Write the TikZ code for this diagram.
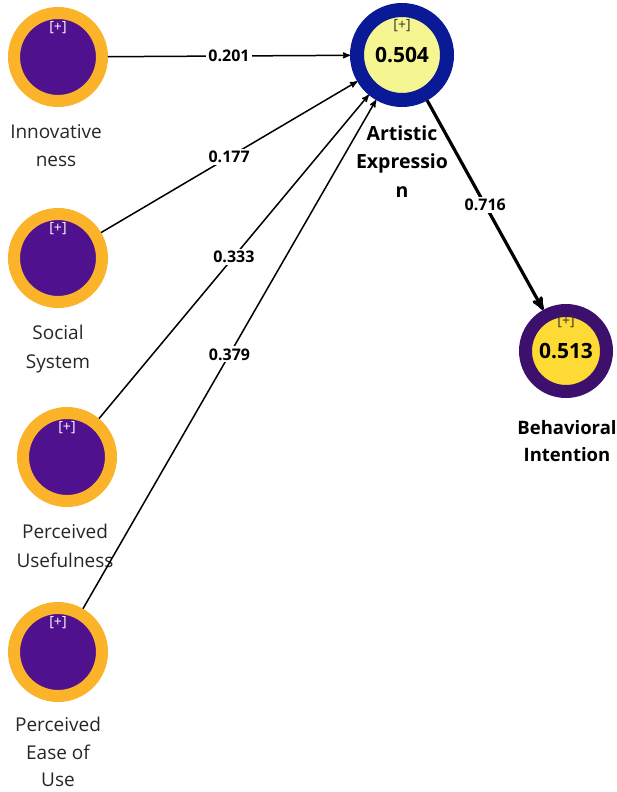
\documentclass[tikz,border=0pt]{standalone}
\usepackage{fontspec}
\setmainfont{Open Sans}
\usetikzlibrary{positioning,arrows}
\definecolor{ringorange}{RGB}{251,180,42}
\definecolor{latpurple}{RGB}{80,17,142}
\definecolor{ringnavy}{RGB}{10,26,150}
\definecolor{paleyellow}{RGB}{245,245,145}
\definecolor{ringplum}{RGB}{62,16,110}
\definecolor{sunyellow}{RGB}{253,218,52}
\tikzset{
        >=stealth', % arrow heads
        exo/.style={circle, fill=latpurple, draw=ringorange, line width=12pt, minimum size=88pt, inner sep=0pt}, % constructs without R2
        endo/.style={circle, inner sep=0pt, font=\bfseries\fontsize{21}{21}\selectfont}, % constructs with R2
        plus/.style={font=\fontsize{14}{14}\selectfont, inner sep=0pt},
        cname/.style={align=center, font=\fontsize{19}{28.5}\selectfont, inner sep=0pt, text=black!85},
        bname/.style={cname, font=\bfseries\fontsize{19.5}{28.5}\selectfont, text=black},
        path/.style={->, line width=1.5pt},
        coef/.style={fill=white, font=\bfseries\fontsize{16}{16}\selectfont, inner sep=2pt},
}
\begin{document}
\begin{tikzpicture}[x=1pt,y=-1pt]
\useasboundingbox (0,0) rectangle (616,792);
% exogenous constructs
\node[exo] (inno) at (58,57) {};
\node[exo] (soc) at (58,258) {};
\node[exo] (pu) at (67,457) {};
\node[exo] (peou) at (58,652) {};
% endogenous constructs
\node[endo, fill=paleyellow, draw=ringnavy, line width=14pt, minimum size=90pt] (ae) at (402,55) {0.504};
\node[endo, fill=sunyellow, draw=ringplum, line width=13pt, minimum size=81pt] (bi) at (566,351) {0.513};
% [+] markers
\node[plus, text=white] (innoplus) at ([yshift=29pt]inno.center) {[+]};
\node[plus, text=white] (socplus) at ([yshift=29pt]soc.center) {[+]};
\node[plus, text=white] (puplus) at ([yshift=29pt]pu.center) {[+]};
\node[plus, text=white] (peouplus) at ([yshift=29pt]peou.center) {[+]};
\node[plus, text=black!80] (aeplus) at ([yshift=29pt]ae.center) {[+]};
\node[plus, text=black!80] (biplus) at ([yshift=29pt]bi.center) {[+]};
% names
\node[cname, below=17pt of inno, xshift=-2pt] (innoname) {Innovative\\ness};
\node[cname, below=17pt of soc] (socname) {Social\\System};
\node[cname, below=17pt of pu, xshift=-2pt] (puname) {Perceived\\Usefulness};
\node[cname, below=15pt of peou, font=\fontsize{19}{27.5}\selectfont] (peouname) {Perceived\\Ease of\\Use};
\node[bname, below=18pt of ae] (aename) {Artistic\\Expressio\\n};
\node[bname, below=22pt of bi, xshift=1pt, font=\bfseries\fontsize{18.5}{27.5}\selectfont] (biname) {Behavioral\\Intention};
% paths
\draw[path] (inno) -- node[coef] {0.201} (ae);
\draw[path] (soc) -- node[coef] {0.177} (ae);
\draw[path] (pu) -- node[coef] {0.333} (ae);
\draw[path] (peou) -- node[coef] {0.379} (ae);
\draw[path, line width=3.2pt] (ae) -- node[coef] {0.716} (bi);
\end{tikzpicture}
\end{document}
